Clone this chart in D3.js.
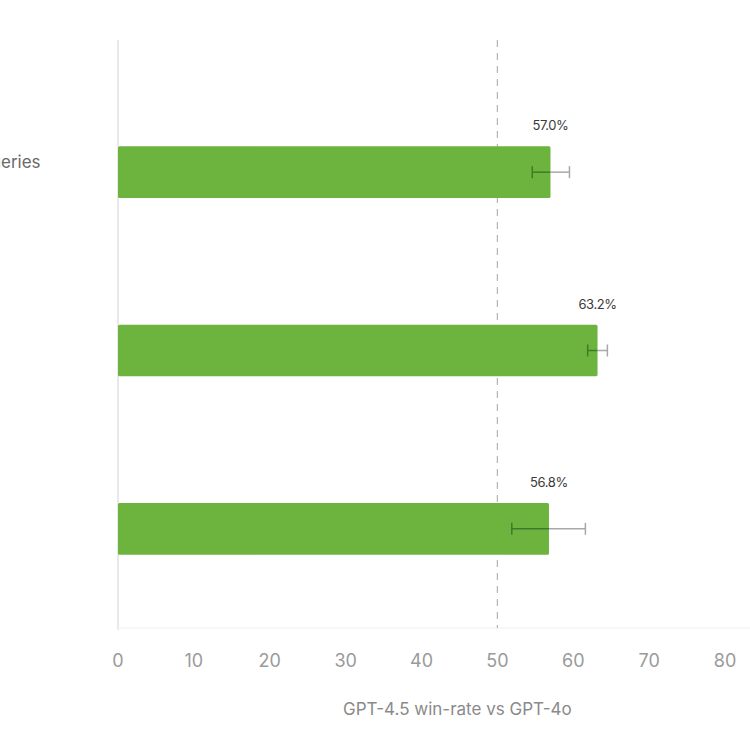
<!DOCTYPE html>
<html>
<head>
<meta charset="utf-8">
<script src="https://cdn.jsdelivr.net/npm/d3@7"></script>
<style>
  html, body { margin: 0; padding: 0; background: #fff; }
  svg { display: block; font-family: Inter, "Open Sans", "Noto Sans", sans-serif; }
</style>
</head>
<body>
<svg id="chart" width="750" height="747"></svg>
<script>
const categories = ["Everyday queries", "Professional queries", "Creative intelligence"];
const labelLines = [["Everyday queries"], ["Professional", "queries"], ["Creative", "intelligence"]];
const winRates = [57.0, 63.2, 56.8];
const errLow = [54.6, 61.9, 51.9];
const errHigh = [59.5, 64.5, 61.6];
const xTicks = [0, 10, 20, 30, 40, 50, 60, 70, 80];
const axisTitle = "GPT-4.5 win-rate vs GPT-4o";
const refValue = 50;

(function () {
const svg = d3.select("#chart");
const plotLeft = 118, plotRight = 725, plotTop = 40, plotBottom = 628;

const x = d3.scaleLinear().domain([0, 80]).range([plotLeft, plotRight]);
const y = d3.scaleBand().domain(categories).range([83, 618]).paddingInner(0.71).paddingOuter(0.355);

// axis lines
svg.append("line").attr("x1", plotLeft).attr("x2", plotLeft).attr("y1", plotTop).attr("y2", plotBottom + 2)
  .attr("stroke", "#e2e2e2").attr("stroke-width", 1.5);
svg.append("line").attr("x1", plotLeft).attr("x2", 750).attr("y1", plotBottom).attr("y2", plotBottom)
  .attr("stroke", "#f0f0f0").attr("stroke-width", 1);

// reference dashed line
svg.append("line").attr("x1", x(refValue)).attr("x2", x(refValue)).attr("y1", plotTop).attr("y2", plotBottom)
  .attr("stroke", "#b5b5b5").attr("stroke-width", 1.2).attr("stroke-dasharray", "7,6");

// bars
svg.selectAll("rect.bar").data(categories).enter().append("rect")
  .attr("class", "bar")
  .attr("x", x(0))
  .attr("y", d => y(d))
  .attr("width", (d, i) => x(winRates[i]) - x(0))
  .attr("height", y.bandwidth())
  .attr("rx", 1.5)
  .attr("fill", "#6cb43e");

// error bars
categories.forEach((c, i) => {
  const cy = y(c) + y.bandwidth() / 2;
  const g = svg.append("g");
  g.append("line").attr("x1", x(errLow[i])).attr("x2", x(winRates[i])).attr("y1", cy).attr("y2", cy)
    .attr("stroke", "#3f7a2a").attr("stroke-width", 1.5);
  g.append("line").attr("x1", x(winRates[i])).attr("x2", x(errHigh[i])).attr("y1", cy).attr("y2", cy)
    .attr("stroke", "#a8a8a8").attr("stroke-width", 1.5);
  g.append("line").attr("x1", x(errLow[i])).attr("x2", x(errLow[i])).attr("y1", cy - 6).attr("y2", cy + 6)
    .attr("stroke", "#3f7a2a").attr("stroke-width", 1.5);
  g.append("line").attr("x1", x(errHigh[i])).attr("x2", x(errHigh[i])).attr("y1", cy - 6).attr("y2", cy + 6)
    .attr("stroke", "#a8a8a8").attr("stroke-width", 1.5);
});

// value labels
svg.selectAll("text.val").data(categories).enter().append("text")
  .attr("class", "val")
  .attr("x", (d, i) => x(winRates[i]))
  .attr("y", d => y(d) - 16)
  .attr("text-anchor", "middle")
  .attr("font-size", 13)
  .attr("fill", "#3a3a3a")
  .attr("letter-spacing", "-0.4")
  .text((d, i) => winRates[i].toFixed(1) + "%");

// category labels (left aligned, partly cut off by the left edge as in the reference)
const measure = svg.append("text").attr("font-size", 17).text("Everyday qu");
const len = measure.node().getComputedTextLength();
measure.remove();
const labelX = 1 - len;
categories.forEach((c, i) => {
  const cy = y(c) + y.bandwidth() / 2;
  const lines = labelLines[i];
  const lh = 22;
  const t = svg.append("text").attr("font-size", 17).attr("fill", "#6a6a6a");
  lines.forEach((ln, j) => {
    t.append("tspan").attr("x", labelX)
      .attr("y", cy - 10 - (lines.length - 1) * lh / 2 + j * lh + 6)
      .text(ln);
  });
});

// x tick labels
svg.selectAll("text.tick").data(xTicks).enter().append("text")
  .attr("class", "tick")
  .attr("x", d => x(d))
  .attr("y", 667)
  .attr("text-anchor", "middle")
  .attr("font-size", 18)
  .attr("fill", "#9a9a9a")
  .text(d => d);

// axis title
svg.append("text")
  .attr("x", 343)
  .attr("y", 715)
  .attr("font-size", 17)
  .attr("fill", "#8a8a8a")
  .text(axisTitle);
})();
</script>
</body>
</html>
